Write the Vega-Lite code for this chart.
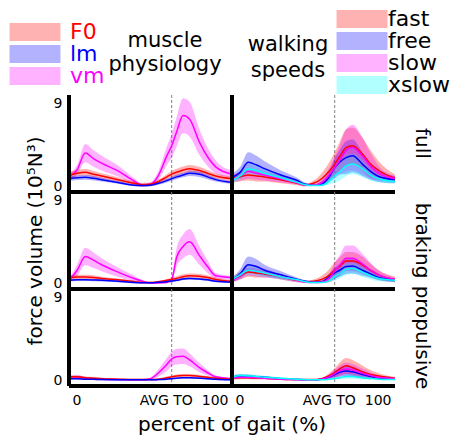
{
"$schema": "https://vega.github.io/schema/vega-lite/v6.json",
"autosize": {"type": "none"},
"padding": {"left": 69, "top": 95, "right": 386, "bottom": 344},
"bounds": "flush",
"config": {"font": "DejaVu Sans", "view": {"stroke": null}, "axis": {"grid": false}},
"datasets": {
"rows": [
{"phase":"full","side":"muscle","group":"vm","pct":0,"mean":1.0,"lo":0.7,"hi":1.3},
{"phase":"full","side":"muscle","group":"vm","pct":5,"mean":1.8,"lo":1.3,"hi":2.3},
{"phase":"full","side":"muscle","group":"vm","pct":10,"mean":3.6,"lo":2.6,"hi":4.6},
{"phase":"full","side":"muscle","group":"vm","pct":15,"mean":3.0,"lo":2.1,"hi":3.9},
{"phase":"full","side":"muscle","group":"vm","pct":20,"mean":2.5,"lo":1.7,"hi":3.3},
{"phase":"full","side":"muscle","group":"vm","pct":30,"mean":1.65,"lo":1.05,"hi":2.25},
{"phase":"full","side":"muscle","group":"vm","pct":40,"mean":0.55,"lo":0.25,"hi":0.85},
{"phase":"full","side":"muscle","group":"vm","pct":45,"mean":0.1,"lo":-0.05,"hi":0.25},
{"phase":"full","side":"muscle","group":"vm","pct":50,"mean":0.2,"lo":0,"hi":0.4},
{"phase":"full","side":"muscle","group":"vm","pct":55,"mean":1.2,"lo":0.7,"hi":1.7},
{"phase":"full","side":"muscle","group":"vm","pct":60,"mean":3.3,"lo":2.3,"hi":4.3},
{"phase":"full","side":"muscle","group":"vm","pct":63,"mean":4.4,"lo":3.1,"hi":5.7},
{"phase":"full","side":"muscle","group":"vm","pct":66,"mean":5.9,"lo":4.3,"hi":7.5},
{"phase":"full","side":"muscle","group":"vm","pct":70,"mean":7.7,"lo":5.8,"hi":9.6},
{"phase":"full","side":"muscle","group":"vm","pct":74,"mean":7.3,"lo":5.4,"hi":9.2},
{"phase":"full","side":"muscle","group":"vm","pct":80,"mean":4.8,"lo":3.4,"hi":6.2},
{"phase":"full","side":"muscle","group":"vm","pct":85,"mean":3.2,"lo":2.2,"hi":4.2},
{"phase":"full","side":"muscle","group":"vm","pct":90,"mean":2.1,"lo":1.4,"hi":2.8},
{"phase":"full","side":"muscle","group":"vm","pct":100,"mean":1.3,"lo":0.9,"hi":1.7},
{"phase":"full","side":"muscle","group":"F0","pct":0,"mean":1.2,"lo":0.85,"hi":1.55},
{"phase":"full","side":"muscle","group":"F0","pct":5,"mean":1.4,"lo":1.05,"hi":1.75},
{"phase":"full","side":"muscle","group":"F0","pct":10,"mean":1.5,"lo":1.15,"hi":1.85},
{"phase":"full","side":"muscle","group":"F0","pct":15,"mean":1.3,"lo":0.95,"hi":1.65},
{"phase":"full","side":"muscle","group":"F0","pct":20,"mean":1.1,"lo":0.8,"hi":1.4},
{"phase":"full","side":"muscle","group":"F0","pct":30,"mean":0.7,"lo":0.45,"hi":0.95},
{"phase":"full","side":"muscle","group":"F0","pct":40,"mean":0.3,"lo":0.1,"hi":0.5},
{"phase":"full","side":"muscle","group":"F0","pct":45,"mean":0.15,"lo":-0.05,"hi":0.35},
{"phase":"full","side":"muscle","group":"F0","pct":50,"mean":0.2,"lo":0,"hi":0.4},
{"phase":"full","side":"muscle","group":"F0","pct":55,"mean":0.5,"lo":0.25,"hi":0.75},
{"phase":"full","side":"muscle","group":"F0","pct":60,"mean":1.0,"lo":0.7,"hi":1.3},
{"phase":"full","side":"muscle","group":"F0","pct":63,"mean":1.3,"lo":0.95,"hi":1.65},
{"phase":"full","side":"muscle","group":"F0","pct":66,"mean":1.5,"lo":1.1,"hi":1.9},
{"phase":"full","side":"muscle","group":"F0","pct":70,"mean":1.75,"lo":1.35,"hi":2.15},
{"phase":"full","side":"muscle","group":"F0","pct":74,"mean":1.9,"lo":1.5,"hi":2.3},
{"phase":"full","side":"muscle","group":"F0","pct":80,"mean":1.7,"lo":1.3,"hi":2.1},
{"phase":"full","side":"muscle","group":"F0","pct":85,"mean":1.4,"lo":1.05,"hi":1.75},
{"phase":"full","side":"muscle","group":"F0","pct":90,"mean":1.1,"lo":0.8,"hi":1.4},
{"phase":"full","side":"muscle","group":"F0","pct":100,"mean":0.8,"lo":0.55,"hi":1.05},
{"phase":"full","side":"muscle","group":"lm","pct":0,"mean":0.8,"lo":0.55,"hi":1.05},
{"phase":"full","side":"muscle","group":"lm","pct":5,"mean":0.9,"lo":0.65,"hi":1.15},
{"phase":"full","side":"muscle","group":"lm","pct":10,"mean":0.95,"lo":0.7,"hi":1.2},
{"phase":"full","side":"muscle","group":"lm","pct":15,"mean":0.85,"lo":0.6,"hi":1.1},
{"phase":"full","side":"muscle","group":"lm","pct":20,"mean":0.7,"lo":0.5,"hi":0.9},
{"phase":"full","side":"muscle","group":"lm","pct":30,"mean":0.4,"lo":0.25,"hi":0.55},
{"phase":"full","side":"muscle","group":"lm","pct":40,"mean":0.1,"lo":-0.02,"hi":0.22},
{"phase":"full","side":"muscle","group":"lm","pct":45,"mean":0.05,"lo":-0.07,"hi":0.17},
{"phase":"full","side":"muscle","group":"lm","pct":50,"mean":0.1,"lo":-0.02,"hi":0.22},
{"phase":"full","side":"muscle","group":"lm","pct":55,"mean":0.3,"lo":0.15,"hi":0.45},
{"phase":"full","side":"muscle","group":"lm","pct":60,"mean":0.6,"lo":0.4,"hi":0.8},
{"phase":"full","side":"muscle","group":"lm","pct":63,"mean":0.8,"lo":0.58,"hi":1.02},
{"phase":"full","side":"muscle","group":"lm","pct":66,"mean":1.0,"lo":0.75,"hi":1.25},
{"phase":"full","side":"muscle","group":"lm","pct":70,"mean":1.2,"lo":0.95,"hi":1.45},
{"phase":"full","side":"muscle","group":"lm","pct":74,"mean":1.4,"lo":1.1,"hi":1.7},
{"phase":"full","side":"muscle","group":"lm","pct":80,"mean":1.3,"lo":1.0,"hi":1.6},
{"phase":"full","side":"muscle","group":"lm","pct":85,"mean":1.0,"lo":0.75,"hi":1.25},
{"phase":"full","side":"muscle","group":"lm","pct":90,"mean":0.7,"lo":0.5,"hi":0.9},
{"phase":"full","side":"muscle","group":"lm","pct":100,"mean":0.4,"lo":0.25,"hi":0.55},
{"phase":"full","side":"speed","group":"fast","pct":0,"mean":0.8,"lo":0.4,"hi":1.2},
{"phase":"full","side":"speed","group":"fast","pct":5,"mean":1.0,"lo":0.5,"hi":1.5},
{"phase":"full","side":"speed","group":"fast","pct":10,"mean":1.2,"lo":0.6,"hi":1.8},
{"phase":"full","side":"speed","group":"fast","pct":15,"mean":1.1,"lo":0.5,"hi":1.7},
{"phase":"full","side":"speed","group":"fast","pct":20,"mean":1.0,"lo":0.5,"hi":1.5},
{"phase":"full","side":"speed","group":"fast","pct":30,"mean":0.7,"lo":0.3,"hi":1.1},
{"phase":"full","side":"speed","group":"fast","pct":40,"mean":0.3,"lo":0.1,"hi":0.5},
{"phase":"full","side":"speed","group":"fast","pct":45,"mean":0.1,"lo":-0.05,"hi":0.25},
{"phase":"full","side":"speed","group":"fast","pct":50,"mean":0.3,"lo":0,"hi":0.6},
{"phase":"full","side":"speed","group":"fast","pct":55,"mean":0.8,"lo":0.2,"hi":1.4},
{"phase":"full","side":"speed","group":"fast","pct":60,"mean":1.7,"lo":0.7,"hi":2.7},
{"phase":"full","side":"speed","group":"fast","pct":63,"mean":2.4,"lo":1.1,"hi":3.7},
{"phase":"full","side":"speed","group":"fast","pct":66,"mean":3.2,"lo":1.6,"hi":4.8},
{"phase":"full","side":"speed","group":"fast","pct":70,"mean":4.2,"lo":2.2,"hi":6.2},
{"phase":"full","side":"speed","group":"fast","pct":74,"mean":4.4,"lo":2.4,"hi":6.4},
{"phase":"full","side":"speed","group":"fast","pct":80,"mean":3.5,"lo":1.7,"hi":5.3},
{"phase":"full","side":"speed","group":"fast","pct":85,"mean":2.4,"lo":0.9,"hi":3.9},
{"phase":"full","side":"speed","group":"fast","pct":90,"mean":1.7,"lo":0.7,"hi":2.7},
{"phase":"full","side":"speed","group":"fast","pct":100,"mean":0.85,"lo":0.45,"hi":1.25},
{"phase":"full","side":"speed","group":"free","pct":0,"mean":0.95,"lo":0.55,"hi":1.35},
{"phase":"full","side":"speed","group":"free","pct":5,"mean":1.5,"lo":0.9,"hi":2.1},
{"phase":"full","side":"speed","group":"free","pct":10,"mean":2.6,"lo":1.5,"hi":3.7},
{"phase":"full","side":"speed","group":"free","pct":15,"mean":2.3,"lo":1.3,"hi":3.3},
{"phase":"full","side":"speed","group":"free","pct":20,"mean":1.9,"lo":1.1,"hi":2.7},
{"phase":"full","side":"speed","group":"free","pct":30,"mean":1.2,"lo":0.7,"hi":1.7},
{"phase":"full","side":"speed","group":"free","pct":40,"mean":0.6,"lo":0.3,"hi":0.9},
{"phase":"full","side":"speed","group":"free","pct":45,"mean":0.2,"lo":0.05,"hi":0.35},
{"phase":"full","side":"speed","group":"free","pct":50,"mean":0.1,"lo":0,"hi":0.2},
{"phase":"full","side":"speed","group":"free","pct":55,"mean":0.2,"lo":0,"hi":0.4},
{"phase":"full","side":"speed","group":"free","pct":60,"mean":1.1,"lo":0.5,"hi":1.7},
{"phase":"full","side":"speed","group":"free","pct":63,"mean":2.0,"lo":1.0,"hi":3.0},
{"phase":"full","side":"speed","group":"free","pct":66,"mean":2.6,"lo":1.3,"hi":3.9},
{"phase":"full","side":"speed","group":"free","pct":70,"mean":3.1,"lo":1.3,"hi":4.9},
{"phase":"full","side":"speed","group":"free","pct":74,"mean":3.3,"lo":1.5,"hi":5.1},
{"phase":"full","side":"speed","group":"free","pct":80,"mean":2.4,"lo":1.1,"hi":3.7},
{"phase":"full","side":"speed","group":"free","pct":85,"mean":1.6,"lo":0.7,"hi":2.5},
{"phase":"full","side":"speed","group":"free","pct":90,"mean":1.05,"lo":0.45,"hi":1.65},
{"phase":"full","side":"speed","group":"free","pct":100,"mean":0.7,"lo":0.3,"hi":1.1},
{"phase":"full","side":"speed","group":"slow","pct":0,"mean":0.7,"lo":0.4,"hi":1.0},
{"phase":"full","side":"speed","group":"slow","pct":5,"mean":1.1,"lo":0.6,"hi":1.6},
{"phase":"full","side":"speed","group":"slow","pct":10,"mean":1.6,"lo":0.8,"hi":2.4},
{"phase":"full","side":"speed","group":"slow","pct":15,"mean":1.4,"lo":0.7,"hi":2.1},
{"phase":"full","side":"speed","group":"slow","pct":20,"mean":1.2,"lo":0.6,"hi":1.8},
{"phase":"full","side":"speed","group":"slow","pct":30,"mean":0.8,"lo":0.4,"hi":1.2},
{"phase":"full","side":"speed","group":"slow","pct":40,"mean":0.35,"lo":0.15,"hi":0.55},
{"phase":"full","side":"speed","group":"slow","pct":45,"mean":0.1,"lo":0,"hi":0.2},
{"phase":"full","side":"speed","group":"slow","pct":50,"mean":0.1,"lo":0,"hi":0.2},
{"phase":"full","side":"speed","group":"slow","pct":55,"mean":0.4,"lo":0.1,"hi":0.7},
{"phase":"full","side":"speed","group":"slow","pct":60,"mean":1.3,"lo":0.5,"hi":2.1},
{"phase":"full","side":"speed","group":"slow","pct":63,"mean":2.0,"lo":0.8,"hi":3.2},
{"phase":"full","side":"speed","group":"slow","pct":66,"mean":2.8,"lo":1.2,"hi":4.4},
{"phase":"full","side":"speed","group":"slow","pct":70,"mean":3.9,"lo":1.6,"hi":6.2},
{"phase":"full","side":"speed","group":"slow","pct":74,"mean":4.2,"lo":1.7,"hi":6.7},
{"phase":"full","side":"speed","group":"slow","pct":80,"mean":3.3,"lo":1.3,"hi":5.3},
{"phase":"full","side":"speed","group":"slow","pct":85,"mean":2.2,"lo":0.8,"hi":3.6},
{"phase":"full","side":"speed","group":"slow","pct":90,"mean":1.4,"lo":0.6,"hi":2.2},
{"phase":"full","side":"speed","group":"slow","pct":100,"mean":0.8,"lo":0.5,"hi":1.1},
{"phase":"full","side":"speed","group":"xslow","pct":0,"mean":0.6,"lo":0.3,"hi":0.9},
{"phase":"full","side":"speed","group":"xslow","pct":5,"mean":1.1,"lo":0.7,"hi":1.5},
{"phase":"full","side":"speed","group":"xslow","pct":10,"mean":1.85,"lo":1.25,"hi":2.45},
{"phase":"full","side":"speed","group":"xslow","pct":15,"mean":1.7,"lo":1.1,"hi":2.3},
{"phase":"full","side":"speed","group":"xslow","pct":20,"mean":1.4,"lo":0.9,"hi":1.9},
{"phase":"full","side":"speed","group":"xslow","pct":30,"mean":0.9,"lo":0.6,"hi":1.2},
{"phase":"full","side":"speed","group":"xslow","pct":40,"mean":0.4,"lo":0.2,"hi":0.6},
{"phase":"full","side":"speed","group":"xslow","pct":45,"mean":0.15,"lo":0.05,"hi":0.25},
{"phase":"full","side":"speed","group":"xslow","pct":50,"mean":0.05,"lo":0,"hi":0.1},
{"phase":"full","side":"speed","group":"xslow","pct":55,"mean":0.1,"lo":0,"hi":0.2},
{"phase":"full","side":"speed","group":"xslow","pct":60,"mean":0.6,"lo":0.2,"hi":1.0},
{"phase":"full","side":"speed","group":"xslow","pct":63,"mean":1.1,"lo":0.4,"hi":1.8},
{"phase":"full","side":"speed","group":"xslow","pct":66,"mean":1.5,"lo":0.6,"hi":2.4},
{"phase":"full","side":"speed","group":"xslow","pct":70,"mean":2.2,"lo":1.1,"hi":3.3},
{"phase":"full","side":"speed","group":"xslow","pct":74,"mean":2.4,"lo":1.3,"hi":3.5},
{"phase":"full","side":"speed","group":"xslow","pct":80,"mean":1.9,"lo":1.0,"hi":2.8},
{"phase":"full","side":"speed","group":"xslow","pct":85,"mean":1.2,"lo":0.6,"hi":1.8},
{"phase":"full","side":"speed","group":"xslow","pct":90,"mean":0.8,"lo":0.4,"hi":1.2},
{"phase":"full","side":"speed","group":"xslow","pct":100,"mean":0.5,"lo":0.3,"hi":0.7},
{"phase":"braking","side":"muscle","group":"vm","pct":0,"mean":0.3,"lo":0.1,"hi":0.5},
{"phase":"braking","side":"muscle","group":"vm","pct":5,"mean":1.4,"lo":0.8,"hi":2.0},
{"phase":"braking","side":"muscle","group":"vm","pct":10,"mean":2.9,"lo":1.95,"hi":3.85},
{"phase":"braking","side":"muscle","group":"vm","pct":15,"mean":2.5,"lo":1.65,"hi":3.35},
{"phase":"braking","side":"muscle","group":"vm","pct":20,"mean":2.0,"lo":1.3,"hi":2.7},
{"phase":"braking","side":"muscle","group":"vm","pct":30,"mean":1.2,"lo":0.7,"hi":1.7},
{"phase":"braking","side":"muscle","group":"vm","pct":40,"mean":0.5,"lo":0.2,"hi":0.8},
{"phase":"braking","side":"muscle","group":"vm","pct":45,"mean":0.2,"lo":0.05,"hi":0.35},
{"phase":"braking","side":"muscle","group":"vm","pct":50,"mean":0,"lo":-0.05,"hi":0.05},
{"phase":"braking","side":"muscle","group":"vm","pct":55,"mean":0,"lo":-0.05,"hi":0.05},
{"phase":"braking","side":"muscle","group":"vm","pct":60,"mean":0.05,"lo":0,"hi":0.1},
{"phase":"braking","side":"muscle","group":"vm","pct":63,"mean":0.4,"lo":0.1,"hi":0.7},
{"phase":"braking","side":"muscle","group":"vm","pct":66,"mean":2.8,"lo":1.8,"hi":3.8},
{"phase":"braking","side":"muscle","group":"vm","pct":70,"mean":4.0,"lo":2.7,"hi":5.3},
{"phase":"braking","side":"muscle","group":"vm","pct":74,"mean":4.5,"lo":3.1,"hi":5.9},
{"phase":"braking","side":"muscle","group":"vm","pct":80,"mean":3.0,"lo":2.0,"hi":4.0},
{"phase":"braking","side":"muscle","group":"vm","pct":85,"mean":1.8,"lo":1.1,"hi":2.5},
{"phase":"braking","side":"muscle","group":"vm","pct":90,"mean":0.8,"lo":0.5,"hi":1.1},
{"phase":"braking","side":"muscle","group":"vm","pct":100,"mean":0.6,"lo":0.4,"hi":0.8},
{"phase":"braking","side":"muscle","group":"F0","pct":0,"mean":0.6,"lo":0.35,"hi":0.85},
{"phase":"braking","side":"muscle","group":"F0","pct":5,"mean":0.65,"lo":0.4,"hi":0.9},
{"phase":"braking","side":"muscle","group":"F0","pct":10,"mean":0.65,"lo":0.4,"hi":0.9},
{"phase":"braking","side":"muscle","group":"F0","pct":15,"mean":0.6,"lo":0.35,"hi":0.85},
{"phase":"braking","side":"muscle","group":"F0","pct":20,"mean":0.5,"lo":0.3,"hi":0.7},
{"phase":"braking","side":"muscle","group":"F0","pct":30,"mean":0.35,"lo":0.2,"hi":0.5},
{"phase":"braking","side":"muscle","group":"F0","pct":40,"mean":0.15,"lo":0.05,"hi":0.25},
{"phase":"braking","side":"muscle","group":"F0","pct":45,"mean":0.05,"lo":-0.05,"hi":0.15},
{"phase":"braking","side":"muscle","group":"F0","pct":50,"mean":0.05,"lo":-0.05,"hi":0.15},
{"phase":"braking","side":"muscle","group":"F0","pct":55,"mean":0.15,"lo":0.05,"hi":0.25},
{"phase":"braking","side":"muscle","group":"F0","pct":60,"mean":0.3,"lo":0.15,"hi":0.45},
{"phase":"braking","side":"muscle","group":"F0","pct":63,"mean":0.4,"lo":0.2,"hi":0.6},
{"phase":"braking","side":"muscle","group":"F0","pct":66,"mean":0.5,"lo":0.25,"hi":0.75},
{"phase":"braking","side":"muscle","group":"F0","pct":70,"mean":0.7,"lo":0.45,"hi":0.95},
{"phase":"braking","side":"muscle","group":"F0","pct":74,"mean":0.8,"lo":0.55,"hi":1.05},
{"phase":"braking","side":"muscle","group":"F0","pct":80,"mean":0.75,"lo":0.5,"hi":1.0},
{"phase":"braking","side":"muscle","group":"F0","pct":85,"mean":0.6,"lo":0.35,"hi":0.85},
{"phase":"braking","side":"muscle","group":"F0","pct":90,"mean":0.4,"lo":0.2,"hi":0.6},
{"phase":"braking","side":"muscle","group":"F0","pct":100,"mean":0.2,"lo":0.05,"hi":0.35},
{"phase":"braking","side":"muscle","group":"lm","pct":0,"mean":0.3,"lo":0.18,"hi":0.42},
{"phase":"braking","side":"muscle","group":"lm","pct":5,"mean":0.35,"lo":0.23,"hi":0.47},
{"phase":"braking","side":"muscle","group":"lm","pct":10,"mean":0.35,"lo":0.23,"hi":0.47},
{"phase":"braking","side":"muscle","group":"lm","pct":15,"mean":0.33,"lo":0.21,"hi":0.45},
{"phase":"braking","side":"muscle","group":"lm","pct":20,"mean":0.3,"lo":0.18,"hi":0.42},
{"phase":"braking","side":"muscle","group":"lm","pct":30,"mean":0.2,"lo":0.1,"hi":0.3},
{"phase":"braking","side":"muscle","group":"lm","pct":40,"mean":0.05,"lo":-0.03,"hi":0.13},
{"phase":"braking","side":"muscle","group":"lm","pct":45,"mean":0.02,"lo":-0.05,"hi":0.09},
{"phase":"braking","side":"muscle","group":"lm","pct":50,"mean":0.02,"lo":-0.05,"hi":0.09},
{"phase":"braking","side":"muscle","group":"lm","pct":55,"mean":0.08,"lo":0,"hi":0.16},
{"phase":"braking","side":"muscle","group":"lm","pct":60,"mean":0.15,"lo":0.05,"hi":0.25},
{"phase":"braking","side":"muscle","group":"lm","pct":63,"mean":0.22,"lo":0.1,"hi":0.34},
{"phase":"braking","side":"muscle","group":"lm","pct":66,"mean":0.3,"lo":0.18,"hi":0.42},
{"phase":"braking","side":"muscle","group":"lm","pct":70,"mean":0.45,"lo":0.33,"hi":0.57},
{"phase":"braking","side":"muscle","group":"lm","pct":74,"mean":0.5,"lo":0.38,"hi":0.62},
{"phase":"braking","side":"muscle","group":"lm","pct":80,"mean":0.45,"lo":0.33,"hi":0.57},
{"phase":"braking","side":"muscle","group":"lm","pct":85,"mean":0.35,"lo":0.23,"hi":0.47},
{"phase":"braking","side":"muscle","group":"lm","pct":90,"mean":0.2,"lo":0.1,"hi":0.3},
{"phase":"braking","side":"muscle","group":"lm","pct":100,"mean":0.1,"lo":0.02,"hi":0.18},
{"phase":"braking","side":"speed","group":"fast","pct":0,"mean":0.4,"lo":0.1,"hi":0.7},
{"phase":"braking","side":"speed","group":"fast","pct":5,"mean":0.8,"lo":0.4,"hi":1.2},
{"phase":"braking","side":"speed","group":"fast","pct":10,"mean":1.2,"lo":0.7,"hi":1.7},
{"phase":"braking","side":"speed","group":"fast","pct":15,"mean":1.1,"lo":0.6,"hi":1.6},
{"phase":"braking","side":"speed","group":"fast","pct":20,"mean":1.0,"lo":0.6,"hi":1.4},
{"phase":"braking","side":"speed","group":"fast","pct":30,"mean":0.7,"lo":0.4,"hi":1.0},
{"phase":"braking","side":"speed","group":"fast","pct":40,"mean":0.3,"lo":0.1,"hi":0.5},
{"phase":"braking","side":"speed","group":"fast","pct":45,"mean":0.15,"lo":0.05,"hi":0.25},
{"phase":"braking","side":"speed","group":"fast","pct":50,"mean":0.2,"lo":0,"hi":0.4},
{"phase":"braking","side":"speed","group":"fast","pct":55,"mean":0.4,"lo":0,"hi":0.8},
{"phase":"braking","side":"speed","group":"fast","pct":60,"mean":0.9,"lo":0.2,"hi":1.6},
{"phase":"braking","side":"speed","group":"fast","pct":63,"mean":1.4,"lo":0.5,"hi":2.3},
{"phase":"braking","side":"speed","group":"fast","pct":66,"mean":1.8,"lo":0.8,"hi":2.8},
{"phase":"braking","side":"speed","group":"fast","pct":70,"mean":2.4,"lo":1.4,"hi":3.4},
{"phase":"braking","side":"speed","group":"fast","pct":74,"mean":2.4,"lo":1.4,"hi":3.4},
{"phase":"braking","side":"speed","group":"fast","pct":80,"mean":2.0,"lo":1.1,"hi":2.9},
{"phase":"braking","side":"speed","group":"fast","pct":85,"mean":1.4,"lo":0.7,"hi":2.1},
{"phase":"braking","side":"speed","group":"fast","pct":90,"mean":0.9,"lo":0.4,"hi":1.4},
{"phase":"braking","side":"speed","group":"fast","pct":100,"mean":0.4,"lo":0.1,"hi":0.7},
{"phase":"braking","side":"speed","group":"free","pct":0,"mean":0.3,"lo":0.1,"hi":0.5},
{"phase":"braking","side":"speed","group":"free","pct":5,"mean":1.0,"lo":0.5,"hi":1.5},
{"phase":"braking","side":"speed","group":"free","pct":10,"mean":2.0,"lo":1.1,"hi":2.9},
{"phase":"braking","side":"speed","group":"free","pct":15,"mean":1.8,"lo":1.0,"hi":2.6},
{"phase":"braking","side":"speed","group":"free","pct":20,"mean":1.4,"lo":0.8,"hi":2.0},
{"phase":"braking","side":"speed","group":"free","pct":30,"mean":0.9,"lo":0.5,"hi":1.3},
{"phase":"braking","side":"speed","group":"free","pct":40,"mean":0.4,"lo":0.2,"hi":0.6},
{"phase":"braking","side":"speed","group":"free","pct":45,"mean":0.2,"lo":0.1,"hi":0.3},
{"phase":"braking","side":"speed","group":"free","pct":50,"mean":0.1,"lo":0,"hi":0.2},
{"phase":"braking","side":"speed","group":"free","pct":55,"mean":0.15,"lo":0,"hi":0.3},
{"phase":"braking","side":"speed","group":"free","pct":60,"mean":0.7,"lo":0.3,"hi":1.1},
{"phase":"braking","side":"speed","group":"free","pct":63,"mean":1.1,"lo":0.5,"hi":1.7},
{"phase":"braking","side":"speed","group":"free","pct":66,"mean":1.4,"lo":0.7,"hi":2.1},
{"phase":"braking","side":"speed","group":"free","pct":70,"mean":1.8,"lo":1.0,"hi":2.6},
{"phase":"braking","side":"speed","group":"free","pct":74,"mean":1.85,"lo":1.05,"hi":2.65},
{"phase":"braking","side":"speed","group":"free","pct":80,"mean":1.4,"lo":0.8,"hi":2.0},
{"phase":"braking","side":"speed","group":"free","pct":85,"mean":1.0,"lo":0.6,"hi":1.4},
{"phase":"braking","side":"speed","group":"free","pct":90,"mean":0.6,"lo":0.3,"hi":0.9},
{"phase":"braking","side":"speed","group":"free","pct":100,"mean":0.3,"lo":0.1,"hi":0.5},
{"phase":"braking","side":"speed","group":"slow","pct":0,"mean":0.3,"lo":0.1,"hi":0.5},
{"phase":"braking","side":"speed","group":"slow","pct":5,"mean":0.8,"lo":0.4,"hi":1.2},
{"phase":"braking","side":"speed","group":"slow","pct":10,"mean":1.4,"lo":0.8,"hi":2.0},
{"phase":"braking","side":"speed","group":"slow","pct":15,"mean":1.3,"lo":0.7,"hi":1.9},
{"phase":"braking","side":"speed","group":"slow","pct":20,"mean":1.1,"lo":0.6,"hi":1.6},
{"phase":"braking","side":"speed","group":"slow","pct":30,"mean":0.7,"lo":0.4,"hi":1.0},
{"phase":"braking","side":"speed","group":"slow","pct":40,"mean":0.3,"lo":0.1,"hi":0.5},
{"phase":"braking","side":"speed","group":"slow","pct":45,"mean":0.1,"lo":0,"hi":0.2},
{"phase":"braking","side":"speed","group":"slow","pct":50,"mean":0.05,"lo":0,"hi":0.1},
{"phase":"braking","side":"speed","group":"slow","pct":55,"mean":0.1,"lo":0,"hi":0.2},
{"phase":"braking","side":"speed","group":"slow","pct":60,"mean":0.6,"lo":0.1,"hi":1.1},
{"phase":"braking","side":"speed","group":"slow","pct":63,"mean":1.3,"lo":0.4,"hi":2.2},
{"phase":"braking","side":"speed","group":"slow","pct":66,"mean":1.9,"lo":0.8,"hi":3.0},
{"phase":"braking","side":"speed","group":"slow","pct":70,"mean":2.7,"lo":1.3,"hi":4.1},
{"phase":"braking","side":"speed","group":"slow","pct":74,"mean":2.7,"lo":1.3,"hi":4.1},
{"phase":"braking","side":"speed","group":"slow","pct":80,"mean":2.1,"lo":1.0,"hi":3.2},
{"phase":"braking","side":"speed","group":"slow","pct":85,"mean":1.4,"lo":0.6,"hi":2.2},
{"phase":"braking","side":"speed","group":"slow","pct":90,"mean":0.9,"lo":0.4,"hi":1.4},
{"phase":"braking","side":"speed","group":"slow","pct":100,"mean":0.4,"lo":0.2,"hi":0.6},
{"phase":"braking","side":"speed","group":"xslow","pct":0,"mean":0.4,"lo":0.2,"hi":0.6},
{"phase":"braking","side":"speed","group":"xslow","pct":5,"mean":0.9,"lo":0.6,"hi":1.2},
{"phase":"braking","side":"speed","group":"xslow","pct":10,"mean":1.4,"lo":0.9,"hi":1.9},
{"phase":"braking","side":"speed","group":"xslow","pct":15,"mean":1.3,"lo":0.8,"hi":1.8},
{"phase":"braking","side":"speed","group":"xslow","pct":20,"mean":1.1,"lo":0.7,"hi":1.5},
{"phase":"braking","side":"speed","group":"xslow","pct":30,"mean":0.7,"lo":0.4,"hi":1.0},
{"phase":"braking","side":"speed","group":"xslow","pct":40,"mean":0.35,"lo":0.2,"hi":0.5},
{"phase":"braking","side":"speed","group":"xslow","pct":45,"mean":0.15,"lo":0.05,"hi":0.25},
{"phase":"braking","side":"speed","group":"xslow","pct":50,"mean":0.05,"lo":0,"hi":0.1},
{"phase":"braking","side":"speed","group":"xslow","pct":55,"mean":0.05,"lo":0,"hi":0.1},
{"phase":"braking","side":"speed","group":"xslow","pct":60,"mean":0.3,"lo":0.1,"hi":0.5},
{"phase":"braking","side":"speed","group":"xslow","pct":63,"mean":0.7,"lo":0.3,"hi":1.1},
{"phase":"braking","side":"speed","group":"xslow","pct":66,"mean":1.0,"lo":0.5,"hi":1.5},
{"phase":"braking","side":"speed","group":"xslow","pct":70,"mean":1.5,"lo":0.9,"hi":2.1},
{"phase":"braking","side":"speed","group":"xslow","pct":74,"mean":1.6,"lo":1.0,"hi":2.2},
{"phase":"braking","side":"speed","group":"xslow","pct":80,"mean":1.2,"lo":0.7,"hi":1.7},
{"phase":"braking","side":"speed","group":"xslow","pct":85,"mean":0.8,"lo":0.4,"hi":1.2},
{"phase":"braking","side":"speed","group":"xslow","pct":90,"mean":0.5,"lo":0.2,"hi":0.8},
{"phase":"braking","side":"speed","group":"xslow","pct":100,"mean":0.3,"lo":0.15,"hi":0.45},
{"phase":"propulsive","side":"muscle","group":"vm","pct":0,"mean":0.3,"lo":0.1,"hi":0.5},
{"phase":"propulsive","side":"muscle","group":"vm","pct":5,"mean":0.35,"lo":0.15,"hi":0.55},
{"phase":"propulsive","side":"muscle","group":"vm","pct":10,"mean":0.2,"lo":0.1,"hi":0.3},
{"phase":"propulsive","side":"muscle","group":"vm","pct":15,"mean":0.15,"lo":0.05,"hi":0.25},
{"phase":"propulsive","side":"muscle","group":"vm","pct":20,"mean":0.1,"lo":0.05,"hi":0.15},
{"phase":"propulsive","side":"muscle","group":"vm","pct":30,"mean":0.05,"lo":0.02,"hi":0.08},
{"phase":"propulsive","side":"muscle","group":"vm","pct":40,"mean":0.02,"lo":0,"hi":0.04},
{"phase":"propulsive","side":"muscle","group":"vm","pct":45,"mean":0.02,"lo":0,"hi":0.04},
{"phase":"propulsive","side":"muscle","group":"vm","pct":50,"mean":0.15,"lo":0.05,"hi":0.25},
{"phase":"propulsive","side":"muscle","group":"vm","pct":55,"mean":0.8,"lo":0.4,"hi":1.2},
{"phase":"propulsive","side":"muscle","group":"vm","pct":60,"mean":1.7,"lo":1.0,"hi":2.4},
{"phase":"propulsive","side":"muscle","group":"vm","pct":63,"mean":2.3,"lo":1.5,"hi":3.1},
{"phase":"propulsive","side":"muscle","group":"vm","pct":66,"mean":2.55,"lo":1.7,"hi":3.4},
{"phase":"propulsive","side":"muscle","group":"vm","pct":70,"mean":2.6,"lo":1.75,"hi":3.45},
{"phase":"propulsive","side":"muscle","group":"vm","pct":74,"mean":2.2,"lo":1.5,"hi":2.9},
{"phase":"propulsive","side":"muscle","group":"vm","pct":80,"mean":1.35,"lo":0.85,"hi":1.85},
{"phase":"propulsive","side":"muscle","group":"vm","pct":85,"mean":0.8,"lo":0.5,"hi":1.1},
{"phase":"propulsive","side":"muscle","group":"vm","pct":90,"mean":0.35,"lo":0.2,"hi":0.5},
{"phase":"propulsive","side":"muscle","group":"vm","pct":100,"mean":0.15,"lo":0.05,"hi":0.25},
{"phase":"propulsive","side":"muscle","group":"F0","pct":0,"mean":0.35,"lo":0.2,"hi":0.5},
{"phase":"propulsive","side":"muscle","group":"F0","pct":5,"mean":0.35,"lo":0.2,"hi":0.5},
{"phase":"propulsive","side":"muscle","group":"F0","pct":10,"mean":0.25,"lo":0.1,"hi":0.4},
{"phase":"propulsive","side":"muscle","group":"F0","pct":15,"mean":0.2,"lo":0.05,"hi":0.35},
{"phase":"propulsive","side":"muscle","group":"F0","pct":20,"mean":0.15,"lo":0.05,"hi":0.25},
{"phase":"propulsive","side":"muscle","group":"F0","pct":30,"mean":0.1,"lo":0.02,"hi":0.18},
{"phase":"propulsive","side":"muscle","group":"F0","pct":40,"mean":0.05,"lo":-0.03,"hi":0.13},
{"phase":"propulsive","side":"muscle","group":"F0","pct":45,"mean":0.05,"lo":-0.03,"hi":0.13},
{"phase":"propulsive","side":"muscle","group":"F0","pct":50,"mean":0.05,"lo":-0.03,"hi":0.13},
{"phase":"propulsive","side":"muscle","group":"F0","pct":55,"mean":0.1,"lo":0,"hi":0.2},
{"phase":"propulsive","side":"muscle","group":"F0","pct":60,"mean":0.25,"lo":0.1,"hi":0.4},
{"phase":"propulsive","side":"muscle","group":"F0","pct":63,"mean":0.35,"lo":0.2,"hi":0.5},
{"phase":"propulsive","side":"muscle","group":"F0","pct":66,"mean":0.45,"lo":0.3,"hi":0.6},
{"phase":"propulsive","side":"muscle","group":"F0","pct":70,"mean":0.5,"lo":0.35,"hi":0.65},
{"phase":"propulsive","side":"muscle","group":"F0","pct":74,"mean":0.5,"lo":0.35,"hi":0.65},
{"phase":"propulsive","side":"muscle","group":"F0","pct":80,"mean":0.4,"lo":0.25,"hi":0.55},
{"phase":"propulsive","side":"muscle","group":"F0","pct":85,"mean":0.3,"lo":0.15,"hi":0.45},
{"phase":"propulsive","side":"muscle","group":"F0","pct":90,"mean":0.2,"lo":0.05,"hi":0.35},
{"phase":"propulsive","side":"muscle","group":"F0","pct":100,"mean":0.1,"lo":0,"hi":0.2},
{"phase":"propulsive","side":"muscle","group":"lm","pct":0,"mean":0.15,"lo":0.07,"hi":0.23},
{"phase":"propulsive","side":"muscle","group":"lm","pct":5,"mean":0.15,"lo":0.07,"hi":0.23},
{"phase":"propulsive","side":"muscle","group":"lm","pct":10,"mean":0.1,"lo":0.02,"hi":0.18},
{"phase":"propulsive","side":"muscle","group":"lm","pct":15,"mean":0.08,"lo":0,"hi":0.16},
{"phase":"propulsive","side":"muscle","group":"lm","pct":20,"mean":0.05,"lo":-0.03,"hi":0.13},
{"phase":"propulsive","side":"muscle","group":"lm","pct":30,"mean":0.03,"lo":-0.05,"hi":0.11},
{"phase":"propulsive","side":"muscle","group":"lm","pct":40,"mean":0.02,"lo":-0.06,"hi":0.1},
{"phase":"propulsive","side":"muscle","group":"lm","pct":45,"mean":0.02,"lo":-0.06,"hi":0.1},
{"phase":"propulsive","side":"muscle","group":"lm","pct":50,"mean":0.02,"lo":-0.06,"hi":0.1},
{"phase":"propulsive","side":"muscle","group":"lm","pct":55,"mean":0.05,"lo":-0.03,"hi":0.13},
{"phase":"propulsive","side":"muscle","group":"lm","pct":60,"mean":0.1,"lo":0.02,"hi":0.18},
{"phase":"propulsive","side":"muscle","group":"lm","pct":63,"mean":0.15,"lo":0.07,"hi":0.23},
{"phase":"propulsive","side":"muscle","group":"lm","pct":66,"mean":0.2,"lo":0.12,"hi":0.28},
{"phase":"propulsive","side":"muscle","group":"lm","pct":70,"mean":0.25,"lo":0.17,"hi":0.33},
{"phase":"propulsive","side":"muscle","group":"lm","pct":74,"mean":0.25,"lo":0.17,"hi":0.33},
{"phase":"propulsive","side":"muscle","group":"lm","pct":80,"mean":0.2,"lo":0.12,"hi":0.28},
{"phase":"propulsive","side":"muscle","group":"lm","pct":85,"mean":0.15,"lo":0.07,"hi":0.23},
{"phase":"propulsive","side":"muscle","group":"lm","pct":90,"mean":0.08,"lo":0,"hi":0.16},
{"phase":"propulsive","side":"muscle","group":"lm","pct":100,"mean":0.02,"lo":-0.06,"hi":0.1},
{"phase":"propulsive","side":"speed","group":"fast","pct":0,"mean":0.2,"lo":0.05,"hi":0.35},
{"phase":"propulsive","side":"speed","group":"fast","pct":5,"mean":0.25,"lo":0.1,"hi":0.4},
{"phase":"propulsive","side":"speed","group":"fast","pct":10,"mean":0.25,"lo":0.1,"hi":0.4},
{"phase":"propulsive","side":"speed","group":"fast","pct":15,"mean":0.22,"lo":0.07,"hi":0.37},
{"phase":"propulsive","side":"speed","group":"fast","pct":20,"mean":0.2,"lo":0.1,"hi":0.3},
{"phase":"propulsive","side":"speed","group":"fast","pct":30,"mean":0.1,"lo":0,"hi":0.2},
{"phase":"propulsive","side":"speed","group":"fast","pct":40,"mean":0.05,"lo":0,"hi":0.1},
{"phase":"propulsive","side":"speed","group":"fast","pct":45,"mean":0.05,"lo":0,"hi":0.1},
{"phase":"propulsive","side":"speed","group":"fast","pct":50,"mean":0.05,"lo":0,"hi":0.1},
{"phase":"propulsive","side":"speed","group":"fast","pct":55,"mean":0.15,"lo":0.05,"hi":0.25},
{"phase":"propulsive","side":"speed","group":"fast","pct":60,"mean":0.5,"lo":0.2,"hi":0.8},
{"phase":"propulsive","side":"speed","group":"fast","pct":63,"mean":0.8,"lo":0.3,"hi":1.3},
{"phase":"propulsive","side":"speed","group":"fast","pct":66,"mean":1.2,"lo":0.5,"hi":1.9},
{"phase":"propulsive","side":"speed","group":"fast","pct":70,"mean":1.55,"lo":0.7,"hi":2.4},
{"phase":"propulsive","side":"speed","group":"fast","pct":74,"mean":1.35,"lo":0.5,"hi":2.2},
{"phase":"propulsive","side":"speed","group":"fast","pct":80,"mean":0.9,"lo":0.2,"hi":1.6},
{"phase":"propulsive","side":"speed","group":"fast","pct":85,"mean":0.6,"lo":0.1,"hi":1.1},
{"phase":"propulsive","side":"speed","group":"fast","pct":90,"mean":0.45,"lo":0.15,"hi":0.75},
{"phase":"propulsive","side":"speed","group":"fast","pct":100,"mean":0.2,"lo":0.05,"hi":0.35},
{"phase":"propulsive","side":"speed","group":"free","pct":0,"mean":0.3,"lo":0.15,"hi":0.45},
{"phase":"propulsive","side":"speed","group":"free","pct":5,"mean":0.45,"lo":0.25,"hi":0.65},
{"phase":"propulsive","side":"speed","group":"free","pct":10,"mean":0.4,"lo":0.2,"hi":0.6},
{"phase":"propulsive","side":"speed","group":"free","pct":15,"mean":0.35,"lo":0.2,"hi":0.5},
{"phase":"propulsive","side":"speed","group":"free","pct":20,"mean":0.3,"lo":0.15,"hi":0.45},
{"phase":"propulsive","side":"speed","group":"free","pct":30,"mean":0.15,"lo":0.05,"hi":0.25},
{"phase":"propulsive","side":"speed","group":"free","pct":40,"mean":0.05,"lo":0,"hi":0.1},
{"phase":"propulsive","side":"speed","group":"free","pct":45,"mean":0.03,"lo":0,"hi":0.06},
{"phase":"propulsive","side":"speed","group":"free","pct":50,"mean":0.02,"lo":0,"hi":0.04},
{"phase":"propulsive","side":"speed","group":"free","pct":55,"mean":0.1,"lo":0.05,"hi":0.15},
{"phase":"propulsive","side":"speed","group":"free","pct":60,"mean":0.35,"lo":0.15,"hi":0.55},
{"phase":"propulsive","side":"speed","group":"free","pct":63,"mean":0.6,"lo":0.25,"hi":0.95},
{"phase":"propulsive","side":"speed","group":"free","pct":66,"mean":0.85,"lo":0.35,"hi":1.35},
{"phase":"propulsive","side":"speed","group":"free","pct":70,"mean":1.0,"lo":0.4,"hi":1.6},
{"phase":"propulsive","side":"speed","group":"free","pct":74,"mean":0.9,"lo":0.35,"hi":1.45},
{"phase":"propulsive","side":"speed","group":"free","pct":80,"mean":0.6,"lo":0.2,"hi":1.0},
{"phase":"propulsive","side":"speed","group":"free","pct":85,"mean":0.4,"lo":0.15,"hi":0.65},
{"phase":"propulsive","side":"speed","group":"free","pct":90,"mean":0.25,"lo":0.1,"hi":0.4},
{"phase":"propulsive","side":"speed","group":"free","pct":100,"mean":0.1,"lo":0,"hi":0.2},
{"phase":"propulsive","side":"speed","group":"slow","pct":0,"mean":0.2,"lo":0.1,"hi":0.3},
{"phase":"propulsive","side":"speed","group":"slow","pct":5,"mean":0.3,"lo":0.15,"hi":0.45},
{"phase":"propulsive","side":"speed","group":"slow","pct":10,"mean":0.3,"lo":0.15,"hi":0.45},
{"phase":"propulsive","side":"speed","group":"slow","pct":15,"mean":0.25,"lo":0.15,"hi":0.35},
{"phase":"propulsive","side":"speed","group":"slow","pct":20,"mean":0.2,"lo":0.1,"hi":0.3},
{"phase":"propulsive","side":"speed","group":"slow","pct":30,"mean":0.1,"lo":0.05,"hi":0.15},
{"phase":"propulsive","side":"speed","group":"slow","pct":40,"mean":0.05,"lo":0,"hi":0.1},
{"phase":"propulsive","side":"speed","group":"slow","pct":45,"mean":0.03,"lo":0,"hi":0.06},
{"phase":"propulsive","side":"speed","group":"slow","pct":50,"mean":0.03,"lo":0,"hi":0.06},
{"phase":"propulsive","side":"speed","group":"slow","pct":55,"mean":0.1,"lo":0,"hi":0.2},
{"phase":"propulsive","side":"speed","group":"slow","pct":60,"mean":0.4,"lo":0.1,"hi":0.7},
{"phase":"propulsive","side":"speed","group":"slow","pct":63,"mean":0.7,"lo":0.25,"hi":1.15},
{"phase":"propulsive","side":"speed","group":"slow","pct":66,"mean":1.0,"lo":0.4,"hi":1.6},
{"phase":"propulsive","side":"speed","group":"slow","pct":70,"mean":1.2,"lo":0.5,"hi":1.9},
{"phase":"propulsive","side":"speed","group":"slow","pct":74,"mean":1.1,"lo":0.45,"hi":1.75},
{"phase":"propulsive","side":"speed","group":"slow","pct":80,"mean":0.75,"lo":0.25,"hi":1.25},
{"phase":"propulsive","side":"speed","group":"slow","pct":85,"mean":0.5,"lo":0.15,"hi":0.85},
{"phase":"propulsive","side":"speed","group":"slow","pct":90,"mean":0.3,"lo":0.1,"hi":0.5},
{"phase":"propulsive","side":"speed","group":"slow","pct":100,"mean":0.15,"lo":0.05,"hi":0.25},
{"phase":"propulsive","side":"speed","group":"xslow","pct":0,"mean":0.3,"lo":0.15,"hi":0.45},
{"phase":"propulsive","side":"speed","group":"xslow","pct":5,"mean":0.5,"lo":0.3,"hi":0.7},
{"phase":"propulsive","side":"speed","group":"xslow","pct":10,"mean":0.45,"lo":0.25,"hi":0.65},
{"phase":"propulsive","side":"speed","group":"xslow","pct":15,"mean":0.4,"lo":0.25,"hi":0.55},
{"phase":"propulsive","side":"speed","group":"xslow","pct":20,"mean":0.3,"lo":0.15,"hi":0.45},
{"phase":"propulsive","side":"speed","group":"xslow","pct":30,"mean":0.2,"lo":0.1,"hi":0.3},
{"phase":"propulsive","side":"speed","group":"xslow","pct":40,"mean":0.1,"lo":0.05,"hi":0.15},
{"phase":"propulsive","side":"speed","group":"xslow","pct":45,"mean":0.05,"lo":0.02,"hi":0.08},
{"phase":"propulsive","side":"speed","group":"xslow","pct":50,"mean":0.02,"lo":0,"hi":0.04},
{"phase":"propulsive","side":"speed","group":"xslow","pct":55,"mean":0.03,"lo":0.01,"hi":0.05},
{"phase":"propulsive","side":"speed","group":"xslow","pct":60,"mean":0.1,"lo":0.05,"hi":0.15},
{"phase":"propulsive","side":"speed","group":"xslow","pct":63,"mean":0.18,"lo":0.08,"hi":0.28},
{"phase":"propulsive","side":"speed","group":"xslow","pct":66,"mean":0.25,"lo":0.1,"hi":0.4},
{"phase":"propulsive","side":"speed","group":"xslow","pct":70,"mean":0.4,"lo":0.15,"hi":0.65},
{"phase":"propulsive","side":"speed","group":"xslow","pct":74,"mean":0.38,"lo":0.13,"hi":0.63},
{"phase":"propulsive","side":"speed","group":"xslow","pct":80,"mean":0.25,"lo":0.05,"hi":0.45},
{"phase":"propulsive","side":"speed","group":"xslow","pct":85,"mean":0.18,"lo":0.08,"hi":0.28},
{"phase":"propulsive","side":"speed","group":"xslow","pct":90,"mean":0.1,"lo":0.03,"hi":0.17},
{"phase":"propulsive","side":"speed","group":"xslow","pct":100,"mean":0.05,"lo":0,"hi":0.1}
]
},
"data": {"name": "rows"},
"facet": {
  "row": {"field": "phase", "type": "nominal", "sort": ["full", "braking", "propulsive"],
    "header": {"title": "force volume (10⁵N³)", "titleOrient": "left", "titleFontSize": 20, "titleFontWeight": "normal", "titleColor": "black", "titleFont": "DejaVu Sans", "titlePadding": -3,
      "labelOrient": "right", "labelAngle": 90, "labelFontSize": 20, "labelPadding": -3, "labelAlign": "center", "labelBaseline": "bottom", "labelFont": "DejaVu Sans", "labelColor": "black"}},
  "column": {"field": "side", "type": "nominal", "sort": ["muscle", "speed"],
    "header": {"title": "percent of gait (%)", "titleOrient": "bottom", "titleFontSize": 20, "titleFontWeight": "normal", "titleColor": "black", "titleFont": "DejaVu Sans", "titlePadding": -2, "labels": false}}
},
"spacing": {"row": 0, "column": 0},
"spec": {
  "width": 163,
  "height": 97,
  "encoding": {
    "x": {"field": "pct", "type": "quantitative", "scale": {"domain": [0, 100], "nice": false},
      "axis": {"values": [0, 63, 100], "labelExpr": "datum.value == 63 ? 'AVG TO' : datum.label",
        "labelAlign": {"expr": "datum.value == 0 ? 'left' : datum.value == 100 ? 'right' : 'center'"},
        "labelOffset": {"expr": "datum.value == 63 ? -6 : datum.value == 100 ? -4 : 3"},
        "ticks": false, "domain": false, "grid": false, "labelFontSize": 14, "labelPadding": 7, "labelColor": "black", "title": null}},
    "y": {"field": "mean", "type": "quantitative", "scale": {"domain": [-0.65, 9.95], "nice": false, "zero": false},
      "axis": {"values": [0, 9], "ticks": false, "domain": false, "grid": false, "labelFontSize": 14, "labelPadding": 7, "labelColor": "black", "title": null}}
  },
  "layer": [
    {"transform": [{"filter": "datum.pct == 0 && (datum.group == 'F0' || datum.group == 'fast')"}],
     "mark": {"type": "rule", "color": "#808080", "strokeWidth": 1, "strokeDash": [3, 2]},
     "encoding": {"x": {"datum": 63}, "y": null}},
    {"transform": [{"filter": "datum.side == 'muscle'"}],
     "mark": {"type": "area", "opacity": 0.3, "interpolate": "monotone"},
     "encoding": {"y": {"field": "lo", "type": "quantitative"}, "y2": {"field": "hi"},
       "fill": {"field": "group", "type": "nominal", "scale": {"domain": ["F0", "lm", "vm"], "range": ["#ff0000", "#0000ff", "#ff00ff"]},
         "legend": {"orient": "none", "legendX": -45, "legendY": -74, "direction": "vertical", "padding": 0,
           "title": ["muscle", "physiology", ""], "titleOrient": "right", "titleAnchor": "middle", "titleAlign": "center", "titleBaseline": "top", "titleFontSize": 21, "titleFontWeight": "normal", "titleColor": "black", "titleLineHeight": 24, "titlePadding": 61,
           "labelFontSize": 22, "labelOffset": 24, "symbolType": "M-2.83,-1H2.83V1H-2.83Z", "symbolSize": 324, "symbolOpacity": 0.3, "symbolStrokeWidth": 0, "rowPadding": -1,
           "encode": {"labels": {"update": {"fill": {"signal": "datum.value == 'F0' ? '#ff0000' : datum.value == 'lm' ? '#0000ff' : '#ff00ff'"}}}}}}}},
    {"transform": [{"filter": "datum.side == 'speed'"}],
     "mark": {"type": "area", "opacity": 0.3, "interpolate": "monotone"},
     "encoding": {"y": {"field": "lo", "type": "quantitative"}, "y2": {"field": "hi"},
       "color": {"field": "group", "type": "nominal", "scale": {"domain": ["fast", "free", "slow", "xslow"], "range": ["#ff0000", "#0000ff", "#ff00ff", "#00ffff"]},
         "legend": {"orient": "none", "legendX": 179, "legendY": -87, "direction": "vertical", "padding": 0,
           "title": ["", "walking", "speeds"], "titleOrient": "left", "titleAnchor": "start", "titleAlign": "center", "titleBaseline": "top", "titleFontSize": 21, "titleFontWeight": "normal", "titleColor": "black", "titleLineHeight": 26, "titlePadding": -18,
           "labelFontSize": 22, "labelOffset": 15, "labelColor": "black", "symbolType": "M-2.83,-1H2.83V1H-2.83Z", "symbolSize": 324, "symbolOpacity": 0.3, "symbolStrokeWidth": 0, "rowPadding": -1}}}},
    {"transform": [{"filter": "datum.side == 'muscle'"}],
     "mark": {"type": "line", "strokeWidth": 1.5, "interpolate": "monotone"},
     "encoding": {"stroke": {"field": "group", "type": "nominal", "scale": {"domain": ["F0", "lm", "vm"], "range": ["#ff0000", "#0000ff", "#ff00ff"]}, "legend": null}}},
    {"transform": [{"filter": "datum.side == 'speed'"}],
     "mark": {"type": "line", "strokeWidth": 1.5, "interpolate": "monotone"},
     "encoding": {"color": {"field": "group", "type": "nominal"}}},
    {"transform": [{"filter": "datum.pct == 0 && (datum.group == 'F0' || datum.group == 'fast')"}],
     "mark": {"type": "rule", "color": "black", "strokeWidth": 4},
     "encoding": {"y": {"datum": -0.65}, "x": null}},
    {"transform": [{"filter": "datum.pct == 0 && (datum.group == 'F0' || datum.group == 'fast')"}],
     "mark": {"type": "rule", "color": "black", "strokeWidth": 4},
     "encoding": {"x": {"datum": 0}, "y": null}}
  ]
}
}
